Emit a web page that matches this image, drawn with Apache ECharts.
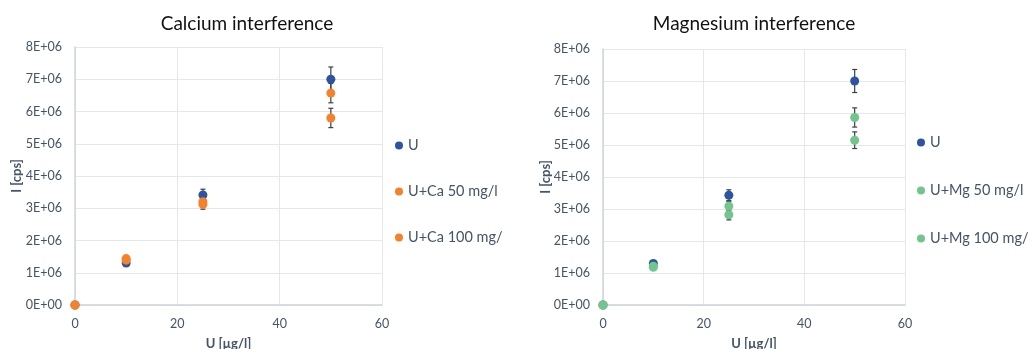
<!DOCTYPE html>
<html>
<head>
<meta charset="utf-8">
<script src="https://cdn.jsdelivr.net/npm/echarts@6/dist/echarts.min.js"></script>
<style>
html,body{margin:0;padding:0;background:#fff;width:1028px;height:349px;overflow:hidden;}
#c1{position:absolute;left:0;top:0;width:502px;height:349px;}
#c2{position:absolute;left:514px;top:0;width:514px;height:349px;}
</style>
</head>
<body>
<div id="c1"></div>
<div id="c2"></div>
<script>
// ---- data ----
const xValues = [0, 10, 25, 50];
const yTickLabels = ['0E+00','1E+06','2E+06','3E+06','4E+06','5E+06','6E+06','7E+06','8E+06'];

const caTitle = 'Calcium interference';
const caNames = ['U', 'U+Ca 50 mg/l', 'U+Ca 100 mg/l'];
const caU      = [0, 1.30e6, 3.41e6, 7.00e6];
const caUErr   = [0, 0.05e6, 0.18e6, 0.38e6];
const ca50     = [0, 1.44e6, 3.20e6, 6.57e6];
const ca50Err  = [0, 0.05e6, 0.12e6, 0.30e6];
const ca100    = [0, 1.39e6, 3.12e6, 5.80e6];
const ca100Err = [0, 0.05e6, 0.15e6, 0.30e6];

const mgTitle = 'Magnesium interference';
const mgNames = ['U', 'U+Mg 50 mg/l', 'U+Mg 100 mg/l'];
const mgU      = [0, 1.30e6, 3.43e6, 7.00e6];
const mgUErr   = [0, 0.05e6, 0.17e6, 0.36e6];
const mg50     = [0, 1.21e6, 3.09e6, 5.86e6];
const mg50Err  = [0, 0.05e6, 0.15e6, 0.30e6];
const mg100    = [0, 1.18e6, 2.82e6, 5.15e6];
const mg100Err = [0, 0.05e6, 0.16e6, 0.26e6];

const xAxisName = 'U [µg/l]';
const yAxisName = 'I [cps]';

// ---- styling ----
const FONT = 'Lato, "Liberation Sans", sans-serif';
const LABEL = '#44546a';
const BLUE = '#2c54a3';
const ORANGE = '#f5822a';
const GREEN = '#72c68c';
const ERR = '#3a3f48';

function pts(ys){ return xValues.map((x,i)=>[x, ys[i]]); }
function errPts(ys, es){ return xValues.map((x,i)=>[x, ys[i]-es[i], ys[i]+es[i]]); }

function errorSeries(ys, es){
  return {
    type: 'custom',
    silent: true,
    z: 3,
    clip: false,
    data: errPts(ys, es),
    encode: {x: 0, y: [1, 2]},
    renderItem: function(params, api){
      const x = api.value(0);
      const lo = api.coord([x, api.value(1)]);
      const hi = api.coord([x, api.value(2)]);
      const cw = 2.5;
      const st = {stroke: ERR, lineWidth: 1.2};
      return {type: 'group', children: [
        {type:'line', shape:{x1:lo[0], y1:lo[1], x2:hi[0], y2:hi[1]}, style: st},
        {type:'line', shape:{x1:lo[0]-cw, y1:lo[1], x2:lo[0]+cw, y2:lo[1]}, style: st},
        {type:'line', shape:{x1:hi[0]-cw, y1:hi[1], x2:hi[0]+cw, y2:hi[1]}, style: st}
      ]};
    }
  };
}

function scatter(name, ys, color){
  return {type:'scatter', name:name, data: pts(ys), symbolSize: 9, clip:false, z: 4,
    itemStyle:{color: color, opacity: 1}};
}

function makeOption(cfg){
  return {
    animation: false,
    textStyle: {fontFamily: FONT},
    title: {text: cfg.title, left: cfg.titleX, top: 9, textAlign: 'center',
      textStyle: {fontFamily: FONT, fontSize: 19, fontWeight: 'normal', color: '#111'}},
    legend: {orient: 'vertical', left: cfg.legendLeft, top: cfg.legendTop, itemGap: cfg.legendGap,
      icon: 'circle', itemWidth: 8, itemHeight: 8, itemStyle:{opacity:1},
      textStyle: {fontFamily: FONT, fontSize: 14.5, color: LABEL, padding:[0,0,0,0]},
      data: cfg.names},
    grid: {left: cfg.gridLeft, right: cfg.gridRight, top: cfg.gridTop, bottom: 44,
      outerBoundsMode: 'none', containLabel: false},
    xAxis: {type:'value', min:0, max:60, interval:20,
      name: xAxisName, nameLocation:'middle', nameGap: 32, nameMoveOverlap: false,
      nameTextStyle:{fontFamily: FONT, fontSize: 13, fontWeight:'bold', color: LABEL},
      axisLine:{show:true, lineStyle:{color:'#cdd4dd', width:1.5}},
      axisTick:{show:false},
      axisLabel:{margin: 12, fontFamily: FONT, fontSize: 12.5, color: LABEL},
      splitLine:{show:true, lineStyle:{color:'#e3e8ef'}}
    },
    yAxis: {type:'value', min:0, max:8e6, interval:1e6,
      name: yAxisName, nameLocation:'middle', nameGap: cfg.yNameGap, nameRotate: 90,
      nameMoveOverlap: false,
      nameTextStyle:{fontFamily: FONT, fontSize: 13, fontWeight:'bold', color: LABEL},
      axisLine:{show:true, lineStyle:{color:'#cdd4dd', width:1.5}},
      axisTick:{show:false},
      axisLabel:{margin: 13, fontFamily: FONT, fontSize: 12.5, color: LABEL,
        formatter: v => yTickLabels[Math.round(v/1e6)]},
      splitLine:{show:true, lineStyle:{color:'#e3e8ef'}}
    },
    series: [
      errorSeries(cfg.ys[0], cfg.es[0]),
      errorSeries(cfg.ys[1], cfg.es[1]),
      errorSeries(cfg.ys[2], cfg.es[2]),
      scatter(cfg.names[0], cfg.ys[0], cfg.colors[0]),
      scatter(cfg.names[1], cfg.ys[1], cfg.colors[1]),
      scatter(cfg.names[2], cfg.ys[2], cfg.colors[2])
    ]
  };
}

const c1 = echarts.init(document.getElementById('c1'));
c1.setOption(makeOption({
  title: caTitle, titleX: 242, names: caNames,
  legendLeft: 390, legendTop: 133, legendGap: 31,
  gridLeft: 75, gridRight: 120, gridTop: 47, yNameGap: 52,
  ys: [caU, ca50, ca100], es: [caUErr, ca50Err, ca100Err],
  colors: [BLUE, ORANGE, ORANGE]
}));

const c2 = echarts.init(document.getElementById('c2'));
c2.setOption(makeOption({
  title: mgTitle, titleX: 235, names: mgNames,
  legendLeft: 398, legendTop: 130, legendGap: 33,
  gridLeft: 89, gridRight: 123, gridTop: 49, yNameGap: 51,
  ys: [mgU, mg50, mg100], es: [mgUErr, mg50Err, mg100Err],
  colors: [BLUE, GREEN, GREEN]
}));
</script>
</body>
</html>
